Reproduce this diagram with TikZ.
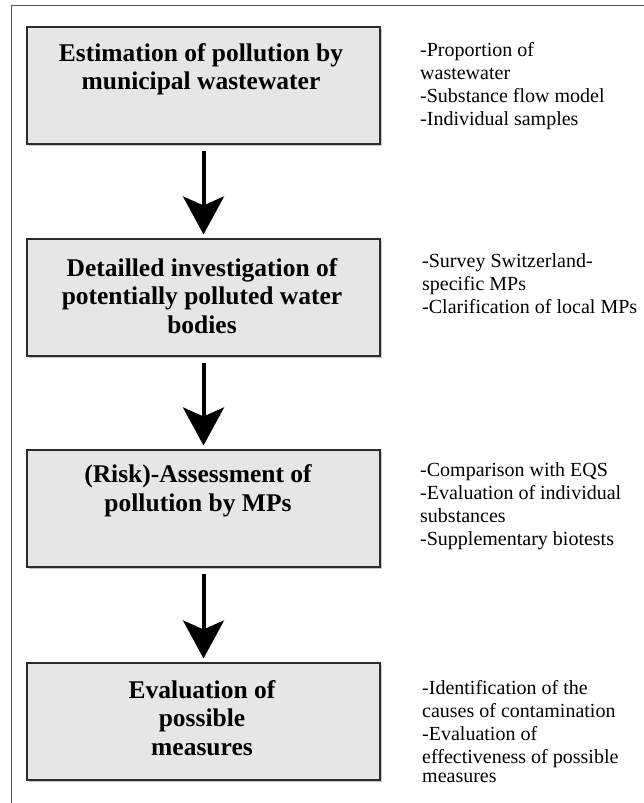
\documentclass[tikz,border=0pt]{standalone}
\usepackage{fontspec}
\setmainfont{Liberation Serif}
\usetikzlibrary{arrows.meta}
\definecolor{boxfill}{HTML}{E6E6E7}
\definecolor{boxline}{HTML}{2B2B2B}
\definecolor{frameline}{HTML}{555555}
\tikzset{
  stagebox/.style={draw=boxline, line width=1.1pt, fill=boxfill, minimum width=353pt, minimum height=117pt, inner sep=0pt},
  shadowbox/.style={fill=black!22, minimum width=353pt, minimum height=117pt, inner sep=0pt},
  btxt/.style={align=center, inner sep=0pt, font=\bfseries\fontsize{25.5}{28.5}\selectfont},
  notetxt/.style={align=left, anchor=north west, inner sep=0pt, font=\fontsize{20}{23}\selectfont},
  flowarrow/.style={line width=4pt, -{Stealth[length=38pt, width=41pt, inset=9pt]}, shorten <=6pt, shorten >=4pt}
}
\begin{document}
\begin{tikzpicture}[x=1pt, y=-1pt]
\useasboundingbox (0,0) rectangle (644,803);
% frame
\draw[frameline, line width=1pt] (11,803) -- (11,5) -- (644,5);
% shadows
\node[shadowbox] at (205,87.5) {};
\node[shadowbox] at (205,299.5) {};
\node[shadowbox] at (205,510.5) {};
\node[shadowbox] at (205,723.5) {};
% boxes
\node[stagebox] (b1) at (203.5,85.5) {};
\node[stagebox] (b2) at (203.5,297.5) {};
\node[stagebox] (b3) at (203.5,508.5) {};
\node[stagebox] (b4) at (203.5,721.5) {};
% box texts
\node[btxt] (t1) at (201,69) {Estimation of pollution by\\municipal wastewater};
\node[btxt] (t2) at (202,296) {Detailled investigation of\\potentially polluted water\\bodies};
\node[btxt] (t3) at (198,491) {(Risk)-Assessment of\\pollution by MPs};
\node[btxt] (t4) at (202,718) {Evaluation of\\possible\\measures};
% arrows
\draw[flowarrow] (b1.south) -- (b2.north);
\draw[flowarrow] (b2.south) -- (b3.north);
\draw[flowarrow] (b3.south) -- (b4.north);
% notes
\node[notetxt] (n1) at (420,42) {-Proportion of\\wastewater\\-Substance flow model\\-Individual samples};
\node[notetxt] (n2) at (422,253) {-Survey Switzerland-\\specific MPs\\-Clarification of local MPs};
\node[notetxt] (n3) at (420,462) {-Comparison with EQS\\-Evaluation of individual\\substances\\-Supplementary biotests};
\node[notetxt] (n4) at (422,680) {-Identification of the\\causes of contamination\\-Evaluation of\\effectiveness of possible\\[-4pt]measures};
\end{tikzpicture}
\end{document}
